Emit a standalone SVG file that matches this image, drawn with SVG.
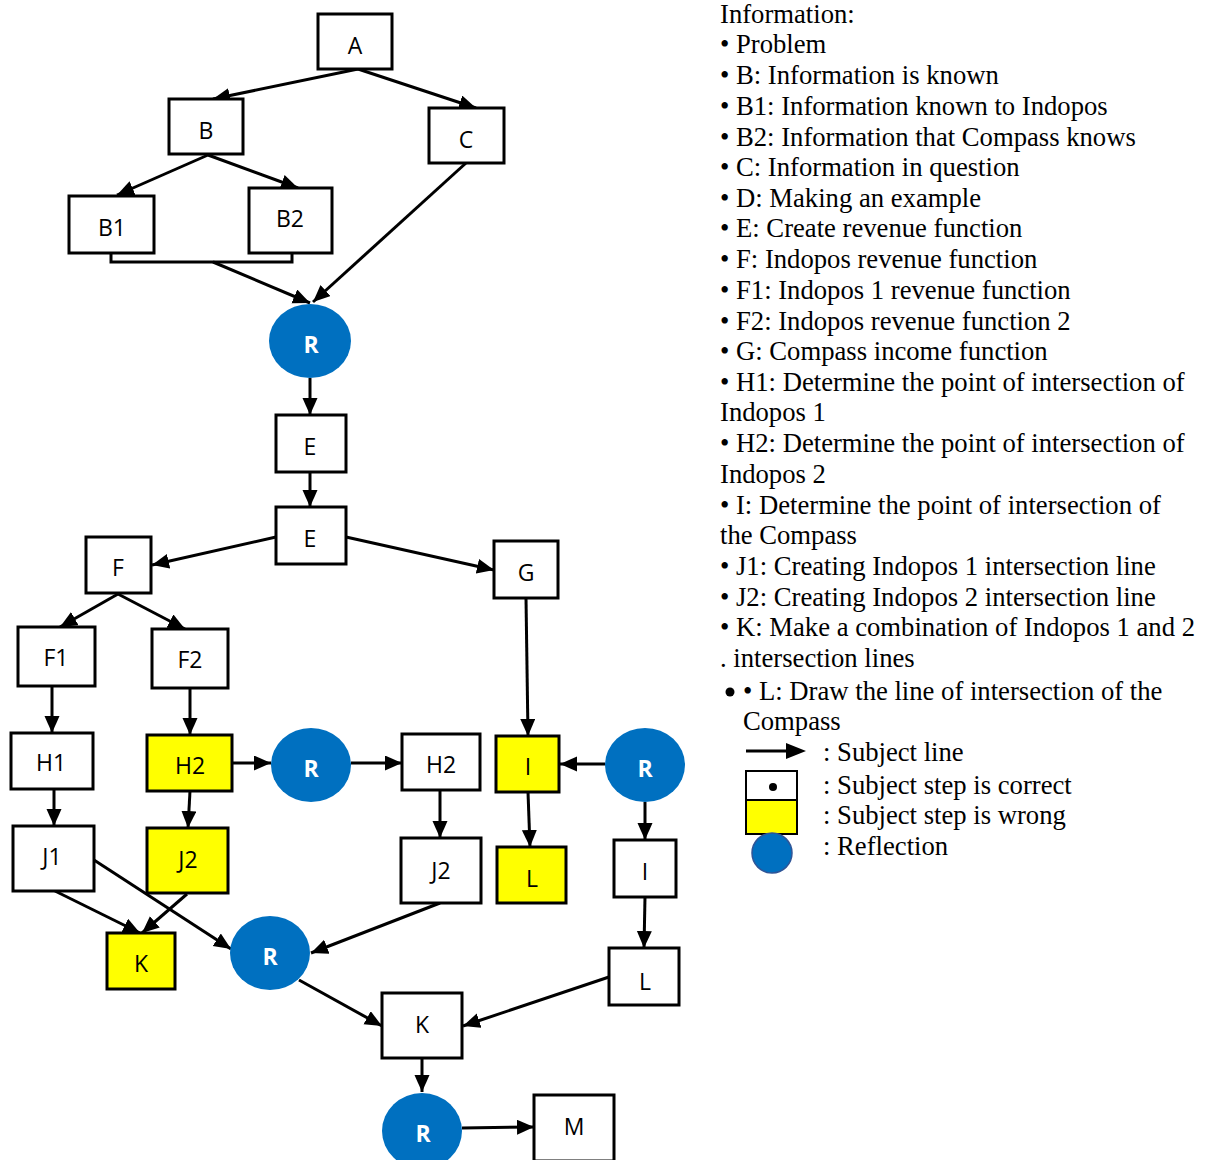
<svg xmlns="http://www.w3.org/2000/svg" width="1208" height="1160" viewBox="0 0 1208 1160">
<style>
.box{fill:#fff;stroke:#000;stroke-width:3}
.wrong{fill:#ffff00;stroke:#000;stroke-width:3}
.refl{fill:#0070c0}
.lbl{font-family:"Open Sans","Noto Sans",sans-serif;font-size:23px;fill:#000;text-anchor:middle}
.rl{font-family:"Open Sans","Noto Sans",sans-serif;font-size:23px;font-weight:bold;fill:#fff;text-anchor:middle}
.con line,.con path{stroke:#000;stroke-width:3;fill:none}
.leg{font-family:"Liberation Serif","Times New Roman",serif;font-size:26.67px;fill:#000}
</style>
<defs>
<marker id="ah" markerUnits="userSpaceOnUse" markerWidth="18" markerHeight="16" refX="17" refY="7.5" orient="auto">
<path d="M0,0 L17,7.5 L0,15 z" fill="#000"/>
</marker>
</defs>
<g class="con">
<line x1="358" y1="69" x2="213" y2="99" marker-end="url(#ah)"/>
<line x1="358" y1="69" x2="476" y2="108" marker-end="url(#ah)"/>
<line x1="208" y1="155" x2="117" y2="195" marker-end="url(#ah)"/>
<line x1="208" y1="155" x2="298" y2="188" marker-end="url(#ah)"/>
<path d="M111,253 V262 H292 V249"/>
<line x1="213" y1="262" x2="310" y2="303" marker-end="url(#ah)"/>
<line x1="466" y1="163" x2="313" y2="302" marker-end="url(#ah)"/>
<line x1="310" y1="378" x2="310" y2="415" marker-end="url(#ah)"/>
<line x1="310" y1="472" x2="310" y2="507" marker-end="url(#ah)"/>
<line x1="276" y1="537" x2="152" y2="565" marker-end="url(#ah)"/>
<line x1="346" y1="537" x2="494" y2="570" marker-end="url(#ah)"/>
<line x1="118" y1="594" x2="60" y2="627" marker-end="url(#ah)"/>
<line x1="118" y1="594" x2="185" y2="629" marker-end="url(#ah)"/>
<line x1="52" y1="686" x2="52" y2="733" marker-end="url(#ah)"/>
<line x1="190" y1="688" x2="190" y2="735" marker-end="url(#ah)"/>
<line x1="526" y1="598" x2="528" y2="736" marker-end="url(#ah)"/>
<line x1="232" y1="763" x2="271" y2="763" marker-end="url(#ah)"/>
<line x1="351" y1="763" x2="402" y2="763" marker-end="url(#ah)"/>
<line x1="605" y1="764" x2="560" y2="764" marker-end="url(#ah)"/>
<line x1="528" y1="792" x2="530" y2="847" marker-end="url(#ah)"/>
<line x1="54" y1="789" x2="54" y2="826" marker-end="url(#ah)"/>
<line x1="190" y1="791" x2="188" y2="828" marker-end="url(#ah)"/>
<line x1="440" y1="790" x2="440" y2="838" marker-end="url(#ah)"/>
<line x1="645" y1="802" x2="645" y2="840" marker-end="url(#ah)"/>
<line x1="645" y1="897" x2="644" y2="948" marker-end="url(#ah)"/>
<line x1="55" y1="891" x2="140" y2="933" marker-end="url(#ah)"/>
<line x1="187" y1="894" x2="142" y2="933" marker-end="url(#ah)"/>
<line x1="94" y1="860" x2="231" y2="949" marker-end="url(#ah)"/>
<line x1="440" y1="903" x2="311" y2="953" marker-end="url(#ah)"/>
<line x1="299" y1="980" x2="382" y2="1026" marker-end="url(#ah)"/>
<line x1="609" y1="977" x2="463" y2="1026" marker-end="url(#ah)"/>
<line x1="422" y1="1058" x2="422" y2="1092" marker-end="url(#ah)"/>
<line x1="462" y1="1128" x2="534" y2="1127" marker-end="url(#ah)"/>
</g>
<g id="nA"><rect class="box" x="318" y="14" width="74" height="55"/><text class="lbl" x="355" y="54">A</text></g>
<g id="nB"><rect class="box" x="169" y="99" width="74" height="55"/><text class="lbl" x="206" y="139">B</text></g>
<g id="nC"><rect class="box" x="429" y="108" width="75" height="55"/><text class="lbl" x="466" y="148">C</text></g>
<g id="nB1"><rect class="box" x="69" y="196" width="85" height="57"/><text class="lbl" x="112" y="236">B1</text></g>
<g id="nB2"><rect class="box" x="249" y="188" width="83" height="65"/><text class="lbl" x="290" y="227">B2</text></g>
<g id="nR1"><ellipse class="refl" cx="310" cy="341" rx="41" ry="37"/><text class="rl" x="311" y="353">R</text></g>
<g id="nE1"><rect class="box" x="276" y="415" width="70" height="57"/><text class="lbl" x="310" y="455">E</text></g>
<g id="nE2"><rect class="box" x="276" y="507" width="70" height="57"/><text class="lbl" x="310" y="547">E</text></g>
<g id="nF"><rect class="box" x="86" y="537" width="65" height="56"/><text class="lbl" x="118" y="576">F</text></g>
<g id="nG"><rect class="box" x="494" y="541" width="64" height="57"/><text class="lbl" x="526" y="581">G</text></g>
<g id="nF1"><rect class="box" x="18" y="627" width="77" height="59"/><text class="lbl" x="56" y="666">F1</text></g>
<g id="nF2"><rect class="box" x="152" y="629" width="76" height="59"/><text class="lbl" x="190" y="668">F2</text></g>
<g id="nH1"><rect class="box" x="11" y="733" width="82" height="56"/><text class="lbl" x="51" y="771">H1</text></g>
<g id="nH2"><rect class="wrong" x="147" y="735" width="85" height="56"/><text class="lbl" x="190" y="774">H2</text></g>
<g id="nR2"><ellipse class="refl" cx="311" cy="765" rx="40" ry="37"/><text class="rl" x="311" y="777">R</text></g>
<g id="nH2b"><rect class="box" x="402" y="734" width="78" height="56"/><text class="lbl" x="441" y="773">H2</text></g>
<g id="nI"><rect class="wrong" x="496" y="736" width="63" height="56"/><text class="lbl" x="528" y="775">I</text></g>
<g id="nR3"><ellipse class="refl" cx="645" cy="765" rx="40" ry="37"/><text class="rl" x="645" y="777">R</text></g>
<g id="nJ1"><rect class="box" x="13" y="826" width="81" height="65"/><text class="lbl" x="52" y="865">J1</text></g>
<g id="nJ2"><rect class="wrong" x="147" y="828" width="81" height="65"/><text class="lbl" x="188" y="868">J2</text></g>
<g id="nJ2b"><rect class="box" x="401" y="838" width="80" height="65"/><text class="lbl" x="441" y="879">J2</text></g>
<g id="nL"><rect class="wrong" x="497" y="847" width="69" height="56"/><text class="lbl" x="532" y="887">L</text></g>
<g id="nI2"><rect class="box" x="614" y="840" width="62" height="57"/><text class="lbl" x="645" y="880">I</text></g>
<g id="nK"><rect class="wrong" x="107" y="933" width="68" height="56"/><text class="lbl" x="141" y="972">K</text></g>
<g id="nR4"><ellipse class="refl" cx="270" cy="953" rx="40" ry="37"/><text class="rl" x="270" y="965">R</text></g>
<g id="nL2"><rect class="box" x="609" y="948" width="70" height="57"/><text class="lbl" x="645" y="990">L</text></g>
<g id="nK2"><rect class="box" x="382" y="993" width="80" height="65"/><text class="lbl" x="422" y="1033">K</text></g>
<g id="nR5"><ellipse class="refl" cx="422" cy="1131" rx="40" ry="38"/><text class="rl" x="423" y="1142">R</text></g>
<g id="nM"><rect class="box" x="534" y="1095" width="80" height="66"/><text class="lbl" x="574" y="1135">M</text></g>
<g id="legend">
<text class="leg" x="720" y="23">Information:</text>
<text class="leg" x="720" y="53">• Problem</text>
<text class="leg" x="720" y="84">• B: Information is known</text>
<text class="leg" x="720" y="115">• B1: Information known to Indopos</text>
<text class="leg" x="720" y="146">• B2: Information that Compass knows</text>
<text class="leg" x="720" y="176">• C: Information in question</text>
<text class="leg" x="720" y="207">• D: Making an example</text>
<text class="leg" x="720" y="237">• E: Create revenue function</text>
<text class="leg" x="720" y="268">• F: Indopos revenue function</text>
<text class="leg" x="720" y="299">• F1: Indopos 1 revenue function</text>
<text class="leg" x="720" y="330">• F2: Indopos revenue function 2</text>
<text class="leg" x="720" y="360">• G: Compass income function</text>
<text class="leg" x="720" y="391">• H1: Determine the point of intersection of</text>
<text class="leg" x="720" y="421">Indopos 1</text>
<text class="leg" x="720" y="452">• H2: Determine the point of intersection of</text>
<text class="leg" x="720" y="483">Indopos 2</text>
<text class="leg" x="720" y="514">• I: Determine the point of intersection of</text>
<text class="leg" x="720" y="544">the Compass</text>
<text class="leg" x="720" y="575">• J1: Creating Indopos 1 intersection line</text>
<text class="leg" x="720" y="606">• J2: Creating Indopos 2 intersection line</text>
<text class="leg" x="720" y="636">• K: Make a combination of Indopos 1 and 2</text>
<text class="leg" x="720" y="667">. intersection lines</text>
<circle cx="730" cy="692" r="4.5" fill="#000"/>
<text class="leg" x="743" y="700">• L: Draw the line of intersection of the</text>
<text class="leg" x="743" y="730">Compass</text>
<line x1="746" y1="751" x2="790" y2="751" stroke="#000" stroke-width="3"/>
<path d="M786,743 L806,751 L786,759 z" fill="#000"/>
<text class="leg" x="823" y="761">: Subject line</text>
<rect x="746" y="771" width="51" height="29" fill="#fff" stroke="#000" stroke-width="2"/>
<circle cx="773" cy="787" r="4" fill="#000"/>
<text class="leg" x="823" y="794">: Subject step is correct</text>
<rect x="746" y="800" width="51" height="34" fill="#ffff00" stroke="#000" stroke-width="2"/>
<text class="leg" x="823" y="824">: Subject step is wrong</text>
<circle cx="772" cy="853" r="20" fill="#0070c0" stroke="#2f5597" stroke-width="1.5"/>
<text class="leg" x="823" y="855">: Reflection</text>
</g>
</svg>
